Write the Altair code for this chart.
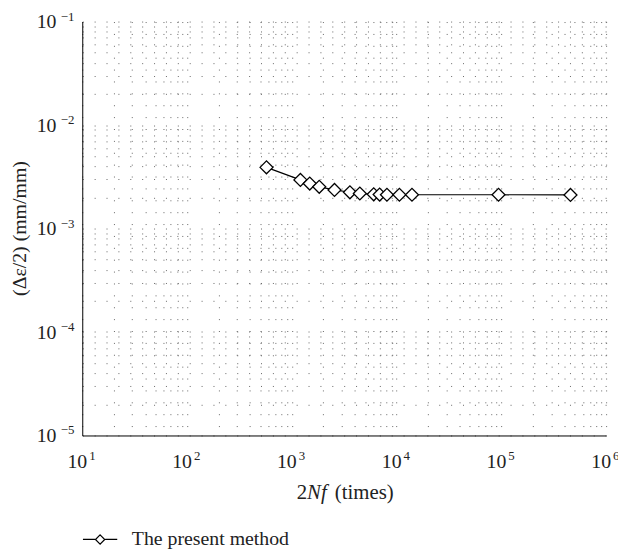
import altair as alt
import pandas as pd

cycles = [573, 1208, 1483, 1828, 2555, 3586, 4460, 6050, 6890, 8090, 10640, 14030, 94000, 457000]
strain = [3.9e-3, 2.95e-3, 2.72e-3, 2.53e-3, 2.36e-3, 2.24e-3, 2.18e-3, 2.14e-3, 2.13e-3, 2.12e-3, 2.12e-3, 2.12e-3, 2.12e-3, 2.11e-3]
series = ["The present method"] * len(cycles)

x_grid = [m * 10 ** e for e in range(1, 6) for m in range(1, 10)] + [1e6]
y_grid = [m * 10.0 ** e for e in range(-5, -1) for m in range(1, 10)] + [1e-1]
x_labels = [10, 100, 1000, 10000, 100000, 1000000]
x_exps = ["1", "2", "3", "4", "5", "6"]
y_labels = [1e-5, 1e-4, 1e-3, 1e-2, 1e-1]
y_exps = ["−5", "−4", "−3", "−2", "−1"]
x_title_parts = ["2", "Nf", "(times)"]

FONT = "Liberation Serif"
TXT = "#222"
W, H = 529, 418
LBL = 20
EXP = 13

df = pd.DataFrame({"cycles": cycles, "strain": strain, "series": series})
xl = pd.DataFrame({"v": x_labels, "e": x_exps, "t": ["10"] * len(x_labels)})
yl = pd.DataFrame({"v": y_labels, "e": y_exps, "t": ["10"] * len(y_labels)})

xscale = alt.Scale(type="log", domain=[10, 1e6], nice=False)
yscale = alt.Scale(type="log", domain=[1e-5, 1e-1], nice=False)

xs = alt.X("cycles:Q", scale=xscale,
           axis=alt.Axis(title=None, values=x_grid, labels=False,
                         grid=True, gridDash=[1, 11], gridColor="#666", gridWidth=1,
                         ticks=False, domainColor="black"))
ys = alt.Y("strain:Q", scale=yscale,
           axis=alt.Axis(title=None, values=y_grid, labels=False,
                         grid=True, gridDash=[1, 11], gridColor="#666", gridWidth=1,
                         ticks=False, domainColor="black"))

stroke = alt.Stroke("series:N", scale=alt.Scale(range=["black"]),
                    legend=alt.Legend(title=None, orient="none", legendX=0, legendY=505,
                                      symbolType="M-1,0H-0.3M0.3,0H1M0,-0.27L0.27,0L0,0.27L-0.27,0Z",
                                      symbolSize=1200, symbolStrokeWidth=1.2, symbolFillColor="white",
                                      labelFont=FONT, labelFontSize=LBL, labelColor=TXT, labelOffset=14))

line = alt.Chart(df).mark_line(color="black", strokeWidth=1.2).encode(x=xs, y=ys, detail="series:N")
pts = alt.Chart(df).mark_point(shape="diamond", filled=True, fill="white", strokeWidth=1.3, size=170, opacity=1).encode(
    x=xs, y=ys, stroke=stroke)

# x-axis tick labels: "10" + superscript exponent
xbase = alt.Chart(xl).mark_text(font=FONT, fontSize=LBL, color=TXT, align="right", dx=5, baseline="alphabetic").encode(
    x=alt.X("v:Q", scale=xscale), y=alt.value(H + 33), text="t:N")
xexp = alt.Chart(xl).mark_text(font=FONT, fontSize=EXP, color=TXT, align="left", dx=7, baseline="alphabetic").encode(
    x=alt.X("v:Q", scale=xscale), y=alt.value(H + 25), text="e:N")
# y-axis tick labels
ybase = alt.Chart(yl).mark_text(font=FONT, fontSize=LBL, color=TXT, align="right", dy=7, baseline="alphabetic").encode(
    y=alt.Y("v:Q", scale=yscale), x=alt.value(-26), text="t:N")
yexp = alt.Chart(yl).mark_text(font=FONT, fontSize=EXP, color=TXT, align="right", dy=-1, baseline="alphabetic").encode(
    y=alt.Y("v:Q", scale=yscale), x=alt.value(-8), text="e:N")

# axis titles
ytitle = alt.Chart(pd.DataFrame({"t": ["(Δε/2) (mm/mm)"]})).mark_text(
    font=FONT, fontSize=LBL, color=TXT, angle=270, align="center", baseline="middle").encode(
    x=alt.value(-63), y=alt.value(H / 2), text="t:N")
xt_parts = pd.DataFrame({"t": x_title_parts, "off": [W / 2 - 48, W / 2 - 37.5, W / 2 - 9.5]})
xt1 = alt.Chart(xt_parts.iloc[[0, 2]]).mark_text(font=FONT, fontSize=LBL + 1, color=TXT, align="left", baseline="alphabetic").encode(
    x=alt.X("off:Q", scale=None), y=alt.value(H + 64), text="t:N")
xt2 = alt.Chart(xt_parts.iloc[[1]]).mark_text(font=FONT, fontSize=LBL + 1, color=TXT, align="left", baseline="alphabetic",
                                              fontStyle="italic").encode(
    x=alt.X("off:Q", scale=None), y=alt.value(H + 64), text="t:N")

chart = alt.layer(line, pts, xbase, xexp, ybase, yexp, ytitle, xt1, xt2).properties(
    width=W, height=H,
    autosize=alt.AutoSizeParams(type="none"),
    padding={"left": 75, "top": 11, "right": 12, "bottom": 118},
).configure_view(stroke=None)

chart.save("out.html", embed_options={"renderer": "svg", "actions": False})
